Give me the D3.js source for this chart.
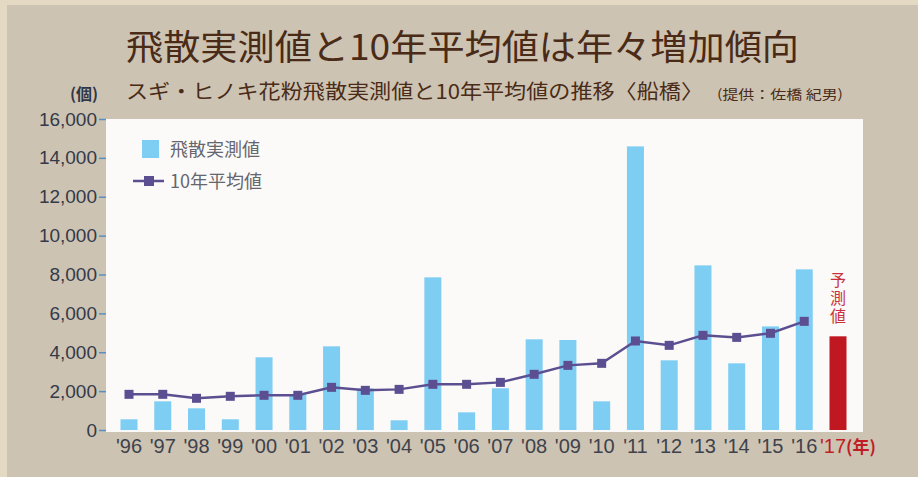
<!DOCTYPE html>
<html>
<head>
<meta charset="utf-8">
<script src="https://cdn.jsdelivr.net/npm/d3@7"></script>
<style>
  body { margin: 0; padding: 0; background: #cdc3b2; }
  svg { display: block; }
</style>
</head>
<body>
<svg id="chart"></svg>
<script>
// data
var years = ["96","97","98","99","00","01","02","03","04","05","06","07","08","09","10","11","12","13","14","15","16","17"];
var measured = [550,1475,1115,550,3740,1800,4305,2145,500,7855,910,2145,4665,4630,1475,14590,3585,8470,3430,5330,8265];
var forecast = 4820;   // '17 予測値
var average10 = [1835,1835,1630,1733,1785,1785,2195,2040,2090,2350,2350,2450,2865,3325,3430,4580,4355,4870,4765,4975,5590];
var yTicks = [0,2000,4000,6000,8000,10000,12000,14000,16000];

var width = 918, height = 477;

var svg = d3.select("#chart")
            .attr("width", width)
            .attr("height", height);

// parchment background
svg.append("rect").attr("width", width).attr("height", height).attr("fill", "#e4d9c2");
svg.append("rect").attr("x", 7).attr("y", 5).attr("width", width - 7).attr("height", height - 5).attr("fill", "#cdc3b2");

// titles
svg.append("text")
    .text("飛散実測値と10年平均値は年々増加傾向")
    .attr("x", 126).attr("y", 60)
    .attr("textLength", 673).attr("lengthAdjust", "spacingAndGlyphs")
    .attr("font-family", "'Noto Sans CJK JP'")
    .attr("font-weight", 400)
    .attr("font-size", 35)
    .attr("fill", "#4a2b17");

var sub = svg.append("text")
    .attr("x", 126).attr("y", 99)
    .attr("font-family", "'Noto Sans CJK JP'")
    .attr("fill", "#4a2b17");
sub.append("tspan")
    .text("スギ・ヒノキ花粉飛散実測値と10年平均値の推移〈船橋〉")
    .attr("font-size", 20)
    .attr("textLength", 577).attr("lengthAdjust", "spacingAndGlyphs");
sub.append("tspan")
    .text("(提供：佐橋 紀男)")
    .attr("x", 717)
    .attr("font-size", 13)
    .attr("textLength", 126).attr("lengthAdjust", "spacingAndGlyphs");

svg.append("text")
    .text("(個)")
    .attr("x", 98).attr("y", 100)
    .attr("text-anchor", "end")
    .attr("font-family", "'Noto Sans CJK JP'")
    .attr("font-weight", 700)
    .attr("font-size", 16)
    .attr("fill", "#2f3747");

// plot panel
svg.append("rect")
    .attr("x", 106).attr("y", 119)
    .attr("width", 757).attr("height", 313)
    .attr("fill", "#fbfaf8");

var x = d3.scalePoint().domain(years).range([129, 838]);
var y = d3.scaleLinear().domain([0, 16000]).range([430, 119]);
var barW = 17;

// y axis
var yAxis = svg.append("g")
    .attr("transform", "translate(106,0)")
    .call(d3.axisLeft(y).tickValues(yTicks).tickSize(7).tickPadding(2).tickFormat(d3.format(",")));
yAxis.select(".domain").remove();
yAxis.selectAll("line").attr("stroke", "#5b8fc4").attr("stroke-width", 1.5);
yAxis.selectAll("text")
    .attr("font-family", "'Liberation Sans', Arial, sans-serif")
    .attr("font-size", 19)
    .attr("fill", "#333a4a");

// bars
var barYears = years.slice(0, measured.length);
svg.append("g").selectAll("rect")
    .data(measured)
    .enter()
    .append("rect")
    .attr("x", function(d, i) { return x(barYears[i]) - barW / 2; })
    .attr("y", function(d) { return y(d); })
    .attr("width", barW)
    .attr("height", function(d) { return y(0) - y(d); })
    .attr("fill", "#7ecdf3");

svg.append("rect")
    .attr("x", x("17") - barW / 2)
    .attr("y", y(forecast))
    .attr("width", barW)
    .attr("height", y(0) - y(forecast))
    .attr("fill", "#bf1820");

// 予測値 label, written vertically
svg.append("text")
    .text("予測値")
    .attr("x", x("17"))
    .attr("y", y(forecast) - 64)
    .style("writing-mode", "vertical-rl")
    .attr("letter-spacing", 2)
    .attr("font-family", "'Noto Sans CJK JP'")
    .attr("font-size", 16)
    .attr("fill", "#c9323c");

// 10-year average line
var line = d3.line()
    .x(function(d, i) { return x(barYears[i]); })
    .y(function(d) { return y(d); });

svg.append("path")
    .datum(average10)
    .attr("d", line)
    .attr("fill", "none")
    .attr("stroke", "#5c4f91")
    .attr("stroke-width", 2.5);

svg.append("g").selectAll("rect")
    .data(average10)
    .enter()
    .append("rect")
    .attr("x", function(d, i) { return x(barYears[i]) - 4.5; })
    .attr("y", function(d) { return y(d) - 4.5; })
    .attr("width", 9)
    .attr("height", 9)
    .attr("fill", "#5c4f91");

// x labels
var xl = svg.append("g").selectAll("text")
    .data(years)
    .enter()
    .append("text")
    .attr("x", function(d) { return d == "17" ? x(d) - 18 : x(d); })
    .attr("y", 453)
    .attr("text-anchor", function(d) { return d == "17" ? "start" : "middle"; })
    .attr("font-family", "'Liberation Sans', Arial, sans-serif")
    .attr("font-size", 20)
    .attr("fill", function(d) { return d == "17" ? "#c01d25" : "#3e424c"; })
    .text(function(d) { return "'" + d; });
xl.filter(function(d) { return d == "17"; })
    .append("tspan")
    .text("(年)")
    .attr("font-family", "'Noto Sans CJK JP'")
    .attr("font-weight", 700)
    .attr("font-size", 17);

// legend
svg.append("rect").attr("x", 142).attr("y", 140).attr("width", 17).attr("height", 18).attr("fill", "#7ecdf3");
svg.append("text").text("飛散実測値")
    .attr("x", 170).attr("y", 156)
    .attr("font-family", "'Noto Sans CJK JP'")
    .attr("font-size", 18)
    .attr("fill", "#66666e");

svg.append("line").attr("x1", 133).attr("x2", 164).attr("y1", 181).attr("y2", 181)
    .attr("stroke", "#5c4f91").attr("stroke-width", 2.5);
svg.append("rect").attr("x", 144).attr("y", 176).attr("width", 10).attr("height", 10).attr("fill", "#5c4f91");
svg.append("text").text("10年平均値")
    .attr("x", 170).attr("y", 188)
    .attr("font-family", "'Noto Sans CJK JP'")
    .attr("font-size", 18)
    .attr("fill", "#66666e");
</script>
</body>
</html>
